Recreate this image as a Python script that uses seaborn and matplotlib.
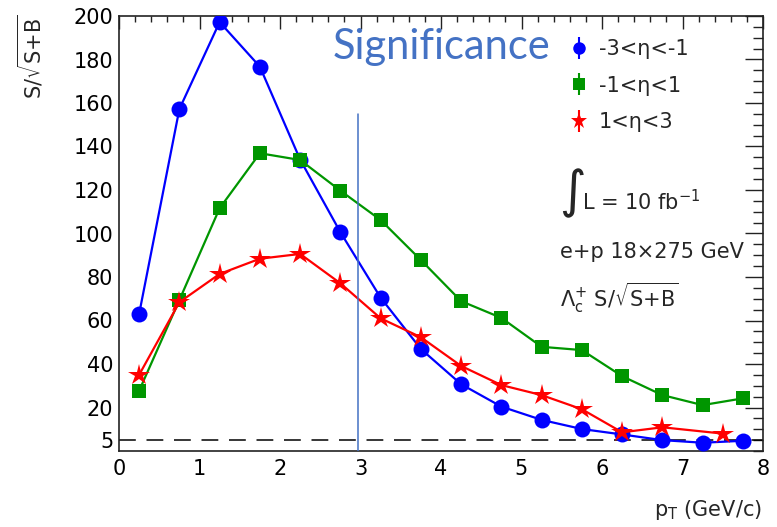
import numpy as np
import pandas as pd
import matplotlib
matplotlib.use("Agg")
import matplotlib.pyplot as plt
import seaborn as sns
from matplotlib.lines import Line2D
from matplotlib.ticker import MultipleLocator, FixedLocator

# ---------------- data ----------------
pt_bins = [0.25, 0.75, 1.25, 1.75, 2.25, 2.75, 3.25, 3.75,
           4.25, 4.75, 5.25, 5.75, 6.25, 6.75, 7.25, 7.75]
sig_bwd = [63.0, 157.2, 197.2, 176.7, 134.0, 100.6, 70.5, 46.9,
           30.7, 20.4, 14.3, 10.1, 7.6, 5.0, 3.8, 4.7]
sig_mid = [27.7, 69.4, 111.6, 136.9, 133.8, 119.7, 106.2, 87.8,
           68.9, 61.2, 47.9, 46.4, 34.4, 25.7, 21.1, 24.2]
pt_fwd = [0.25, 0.75, 1.25, 1.75, 2.25, 2.75, 3.25, 3.75,
          4.25, 4.75, 5.25, 5.75, 6.25, 6.75, 7.5]
sig_fwd = [35.0, 68.4, 81.4, 88.4, 90.6, 77.1, 61.0, 52.3,
           39.1, 30.3, 25.7, 19.2, 8.6, 10.9, 8.0]
labels = ["-3<η<-1", "-1<η<1", "1<η<3"]
x_ticks = [0, 1, 2, 3, 4, 5, 6, 7, 8]
y_ticks = [5, 20, 40, 60, 80, 100, 120, 140, 160, 180, 200]
ref_level = 5
cut_pt = 2.97
cut_top = 155

colors = ["#0000FF", "#009600", "#FF0000"]
markers = ["o", "s", "*"]
msizes = [11.5, 10, 16]

df = pd.concat([
    pd.DataFrame({"pt": pt_bins, "sig": sig_bwd, "eta": labels[0]}),
    pd.DataFrame({"pt": pt_bins, "sig": sig_mid, "eta": labels[1]}),
    pd.DataFrame({"pt": pt_fwd, "sig": sig_fwd, "eta": labels[2]}),
], ignore_index=True)

sns.set_theme(style="white")
plt.rcParams["font.family"] = ["DejaVu Sans"]
plt.rcParams["mathtext.default"] = "regular"

FS = 15
W, H = 777, 527
fig = plt.figure(figsize=(W / 100, H / 100), dpi=100)
L, R, T, B = 119, 763, 16, 451
ax = fig.add_axes([L / W, 1 - B / H, (R - L) / W, (B - T) / H])

for lab, c, m, ms in zip(labels, colors, markers, msizes):
    sub = df[df["eta"] == lab]
    sns.lineplot(data=sub, x="pt", y="sig", color=c, marker=m,
                 markersize=ms, markeredgewidth=0, linewidth=1.6,
                 ax=ax, legend=False, zorder=3)

# reference lines
ax.axhline(ref_level, color="black", lw=1.1, dashes=(11, 7), zorder=2)
ax.plot([cut_pt, cut_pt], [0, cut_top], color="#4472C4", lw=1.1, zorder=4)

ax.set_xlim(0, 8)
ax.set_ylim(0, 200)
ax.set_xlabel("")
ax.set_ylabel("")
ax.xaxis.set_major_locator(FixedLocator(x_ticks))
ax.xaxis.set_minor_locator(MultipleLocator(0.2))
ax.yaxis.set_major_locator(FixedLocator(y_ticks))
ax.yaxis.set_minor_locator(MultipleLocator(5))
ax.set_xticklabels([str(v) for v in x_ticks])
ax.set_yticklabels([str(v) for v in y_ticks])

for s in ax.spines.values():
    s.set_color("#222222")
    s.set_linewidth(1.2)
ax.tick_params(axis="both", which="both", direction="in", top=True,
               right=True, color="#222222", width=1.0, labelsize=FS,
               labelcolor="black")
ax.tick_params(axis="y", which="major", length=13, pad=4)
ax.tick_params(axis="y", which="minor", length=7)
ax.tick_params(axis="x", which="major", length=9, pad=6)
ax.tick_params(axis="x", which="minor", length=4.5)
t0 = ax.yaxis.get_major_ticks()[0]
t0.tick1line.set_markersize(7)
t0.tick2line.set_markersize(7)

# axis titles
fig.text(31 / W, 1 - 14 / H, r"S/$\sqrt{S{+}B}$", rotation=90, ha="center",
         va="top", fontsize=FS)
fig.text(762 / W, 1 - 510 / H, r"p$_{T}$ (GeV/c)", ha="right",
         va="center", fontsize=FS)

# legend
handles = []
for c, m, ms in zip(colors, markers, [9, 8.5, 12]):
    bar = Line2D([], [], color=c, marker="|", markersize=16,
                 markeredgewidth=1.5, linestyle="none")
    mk = Line2D([], [], color=c, marker=m, markersize=ms,
                markeredgewidth=0, linestyle="none")
    handles.append((bar, mk))
leg = fig.legend(handles, labels, loc="upper left",
                 bbox_to_anchor=(557 / W, 1 - 29 / H), frameon=False,
                 fontsize=FS, handlelength=1.1, handletextpad=0.4,
                 labelspacing=0.78, borderpad=0)

# annotations
fig.text(333 / W, 1 - 47 / H, "Significance", color="#4472C4",
         family=["Lato", "DejaVu Sans"], fontsize=30, ha="left",
         va="center")
fig.text(559 / W, 1 - 193 / H, r"$\int$", fontsize=26, ha="left",
         va="center")
fig.text(582 / W, 1 - 202 / H, r"L = 10 fb$^{-1}$", fontsize=FS,
         ha="left", va="center")
fig.text(560 / W, 1 - 252 / H, "e+p 18×275 GeV", fontsize=FS,
         ha="left", va="center")
fig.text(560 / W, 1 - 298 / H, r"$\Lambda_{c}^{+}$ S/$\sqrt{S{+}B}$",
         fontsize=FS, ha="left", va="center")

fig.savefig("out.png", dpi=100)
